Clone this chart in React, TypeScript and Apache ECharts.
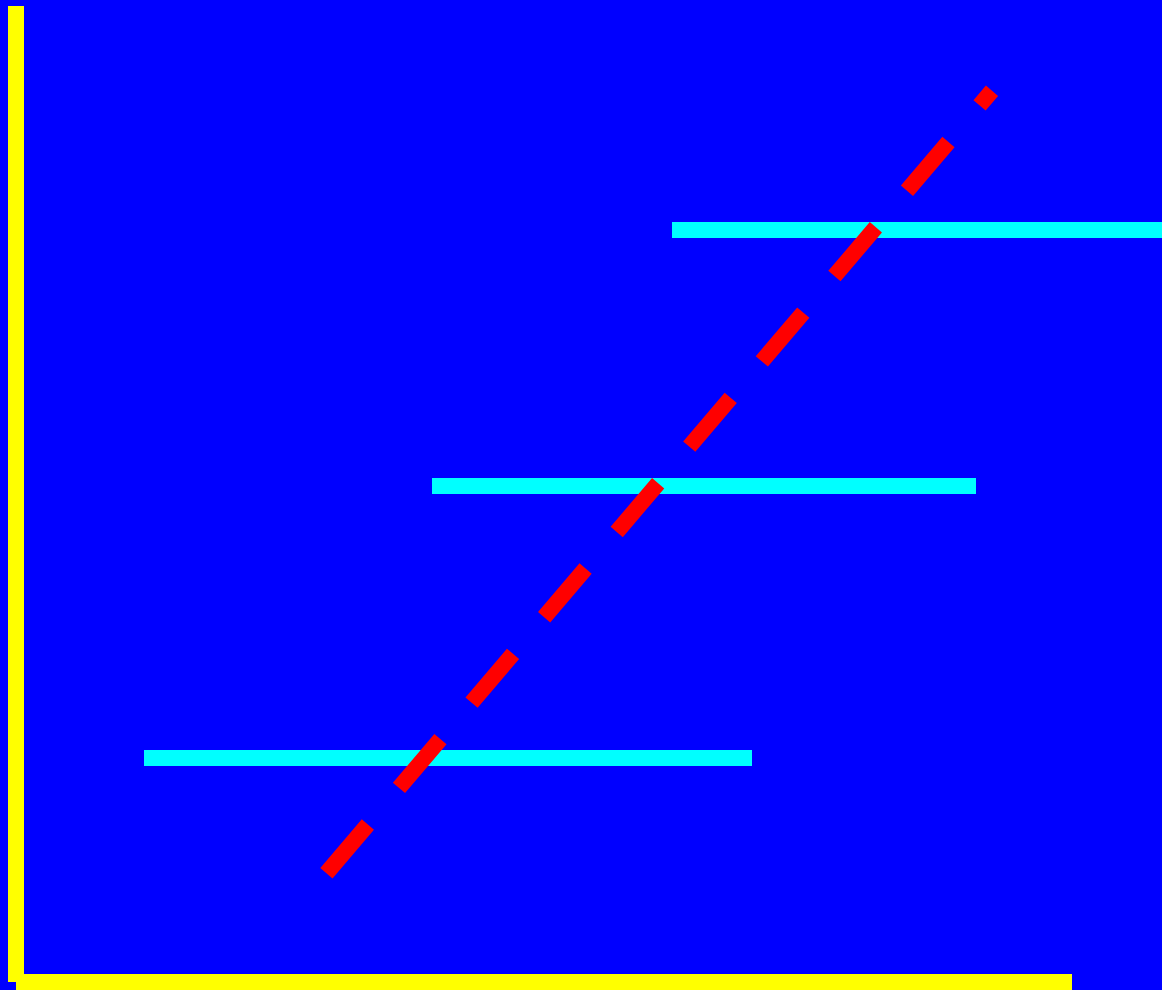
import React, { useEffect, useRef } from "react";
import * as echarts from "echarts";

// Axis extents (data units)
const xRange = [0, 66];
const yRange = [0, 61];

// Horizontal cyan segments
const segmentStartX = [8, 26, 41];
const segmentEndX = [46, 60, 73];
const segmentY = [14, 31, 47];

// Red dashed trend line
const trendX = [19.4, 61];
const trendY = [6.8, 55.7];

export default function App() {
  const ref = useRef<HTMLDivElement>(null);

  useEffect(() => {
    if (!ref.current) return;
    const chart = echarts.init(ref.current, undefined, { renderer: "svg" });

    const segmentSeries = {
      type: "lines",
      name: "segments",
      coordinateSystem: "cartesian2d",
      polyline: false,
      clip: false,
      silent: true,
      z: 2,
      data: segmentY.map((y, i) => ({
        coords: [
          [segmentStartX[i], y],
          [segmentEndX[i], y],
        ],
      })),
      symbol: "none",
      lineStyle: { color: "#00ffff", width: 16, opacity: 1, curveness: 0, cap: "butt" },
    };

    const trendSeries = {
      type: "line",
      name: "trend",
      data: trendX.map((x, i) => [x, trendY[i]]),
      symbol: "none",
      clip: false,
      silent: true,
      z: 3,
      lineStyle: { color: "#ff0000", width: 16, type: [64, 48], cap: "butt" },
    };

    chart.setOption({
      animation: false,
      backgroundColor: "#0000ff",
      grid: { left: 16, right: 90, top: 6, bottom: 8, containLabel: false },
      xAxis: {
        type: "value",
        min: xRange[0],
        max: xRange[1],
        axisLine: { show: true, onZero: false, lineStyle: { color: "#ffff00", width: 16, cap: "butt" } },
        axisTick: { show: false },
        axisLabel: { show: false },
        splitLine: { show: false },
      },
      yAxis: {
        type: "value",
        min: yRange[0],
        max: yRange[1],
        axisLine: { show: true, onZero: false, lineStyle: { color: "#ffff00", width: 16, cap: "butt" } },
        axisTick: { show: false },
        axisLabel: { show: false },
        splitLine: { show: false },
      },
      series: [segmentSeries, trendSeries],
    });

    return () => chart.dispose();
  }, []);

  return (
    <div
      ref={ref}
      style={{ position: "fixed", left: 0, top: 0, width: 1162, height: 990 }}
    />
  );
}
